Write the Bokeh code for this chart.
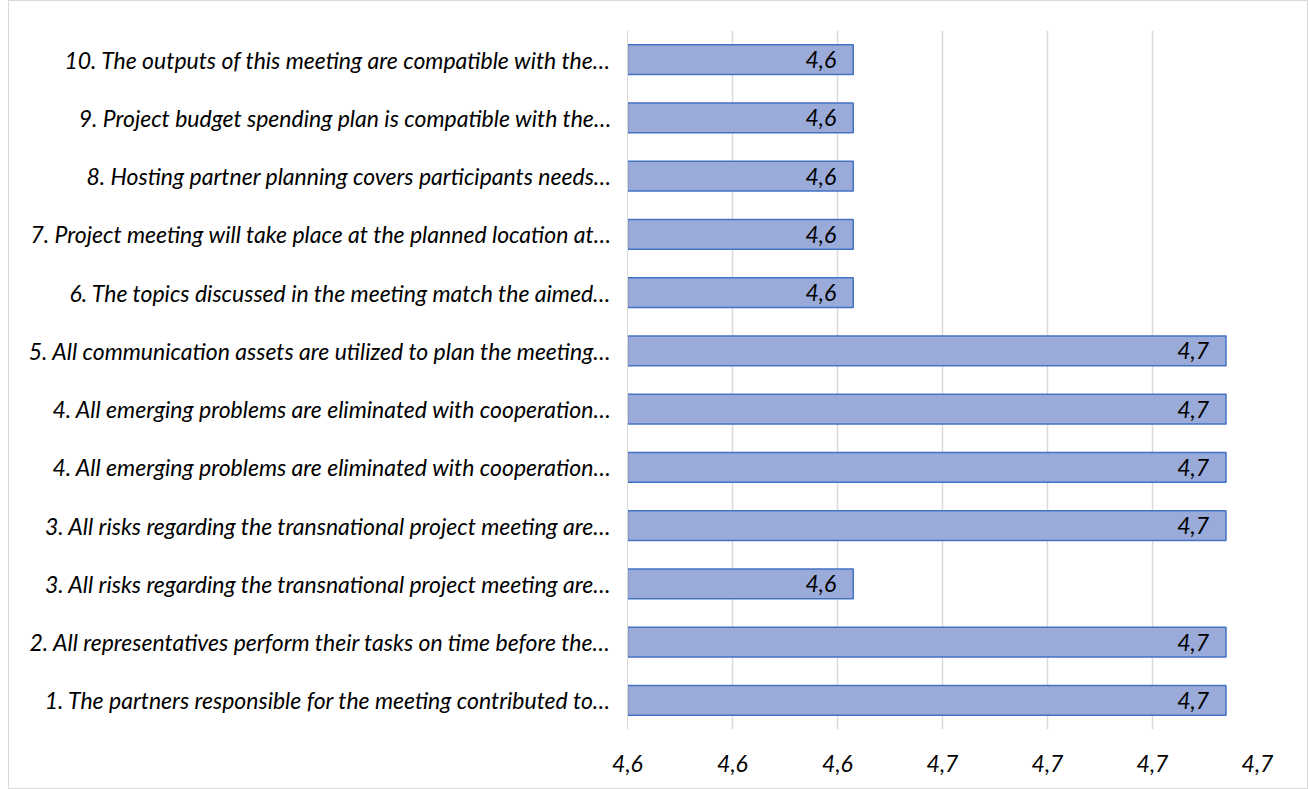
from bokeh.plotting import figure
from bokeh.models import Range1d, FixedTicker, CustomJSTickFormatter, ColumnDataSource
from bokeh.core.properties import value
from bokeh.embed import file_html
from bokeh.resources import INLINE

# Data (bottom to top)
categories = [
    "1. The partners responsible for the meeting contributed to…",
    "2. All representatives perform their tasks on time before the…",
    "3. All risks regarding the transnational project meeting are…",
    "3. All risks regarding the transnational project meeting are…",
    "4. All emerging problems are eliminated with cooperation…",
    "4. All emerging problems are eliminated with cooperation…",
    "5. All communication assets are utilized to plan the meeting…",
    "6. The topics discussed in the meeting match the aimed…",
    "7. Project meeting will take place at the planned location at…",
    "8. Hosting partner planning covers participants needs…",
    "9. Project budget spending plan is compatible with the…",
    "10. The outputs of this meeting are compatible with the…",
]
values = [4.714, 4.714, 4.643, 4.714, 4.714, 4.714, 4.714, 4.643, 4.643, 4.643, 4.643, 4.643]
x_ticks = [4.60, 4.62, 4.64, 4.66, 4.68, 4.70, 4.72]

FONT = "Lato"
FS = "23px"

positions = list(range(1, len(categories) + 1))
labels = [f"{v:.1f}".replace(".", ",") for v in values]
src = ColumnDataSource(dict(y=positions, right=values, lab=labels))

p = figure(width=1300, height=789, output_backend="svg", toolbar_location=None,
           x_range=Range1d(x_ticks[0], x_ticks[-1]), y_range=Range1d(0.5, len(categories) + 0.5),
           min_border_left=618, min_border_right=52, min_border_top=29, min_border_bottom=61,
           margin=(0, 0, 0, 8))
p.styles = {"border": "1px solid #d9d9d9", "box-sizing": "border-box"}
p.outline_line_color = None
p.background_fill_color = "white"
p.border_fill_color = "white"

p.hbar(y="y", left=x_ticks[0], right="right", height=0.51, source=src,
       fill_color="#9aabda", line_color="#4472c4", line_width=1.5)

p.text(x="right", y="y", text="lab", source=src, x_offset=-17,
       text_align="right", text_baseline="middle",
       text_font=value(FONT), text_font_style="italic", text_font_size=FS, text_color="black")

# x axis
p.xaxis.ticker = FixedTicker(ticks=x_ticks)
p.xaxis.formatter = CustomJSTickFormatter(code="return tick.toFixed(1).replace('.', ',');")
p.xaxis.axis_line_color = None
p.xaxis.major_tick_line_color = None
p.xaxis.minor_tick_line_color = None
p.xaxis.major_label_text_font = FONT
p.xaxis.major_label_text_font_style = "italic"
p.xaxis.major_label_text_font_size = FS
p.xaxis.major_label_text_color = "black"
p.xaxis.major_label_standoff = 19

# y axis
p.yaxis.ticker = FixedTicker(ticks=positions)
p.yaxis.major_label_overrides = {pos: c for pos, c in zip(positions, categories)}
p.yaxis.axis_line_color = "#d9d9d9"
p.yaxis.major_tick_line_color = None
p.yaxis.minor_tick_line_color = None
p.yaxis.major_label_text_font = FONT
p.yaxis.major_label_text_font_style = "italic"
p.yaxis.major_label_text_font_size = FS
p.yaxis.major_label_text_color = "black"
p.yaxis.major_label_standoff = 10

p.xgrid.grid_line_color = "#d9d9d9"
p.xgrid.grid_line_width = 1.5
p.ygrid.grid_line_color = None

open("out.html", "w").write(file_html(p, INLINE))
